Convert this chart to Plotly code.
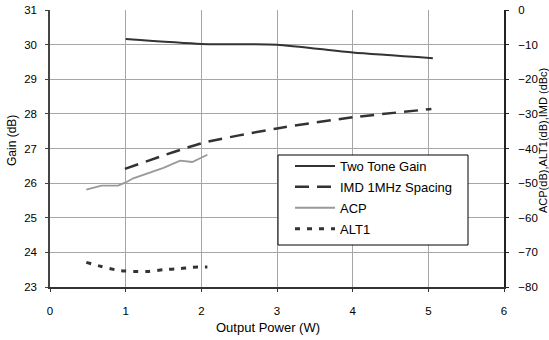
import plotly.graph_objects as go

# Data
gain_x = [1.0, 2.0, 3.0, 4.0, 5.06]
gain_y = [30.16, 30.02, 30.0, 29.77, 29.61]

imd_x = [0.99, 2.0, 3.0, 4.0, 5.04]
imd_y = [-45.9, -38.5, -34.2, -31.0, -28.6]

acp_x = [0.48, 0.68, 0.9, 1.0, 1.1, 1.3, 1.5, 1.72, 1.88, 2.08]
acp_y = [-51.9, -50.7, -50.7, -49.8, -48.6, -47.2, -45.6, -43.5, -43.9, -41.8]

alt1_x = [0.48, 0.68, 0.9, 1.0, 1.1, 1.3, 1.5, 1.72, 1.88, 2.08]
alt1_y = [-72.9, -74.1, -75.2, -75.4, -75.5, -75.5, -75.0, -74.7, -74.3, -74.2]

FONT = "Liberation Sans, Arial, sans-serif"
FS = 11.5
TS = 13
W, H = 549, 340
L, R, T, B = 50, 45, 10, 53
PW, PH = W - L - R, H - T - B


def px_x(p):
    return (p - L) / PW


def px_y(p):
    return (H - B - p) / PH


fig = go.Figure()
fig.add_trace(go.Scatter(x=gain_x, y=gain_y, name="Two Tone Gain", mode="lines", legendgroup="a",
                         line=dict(color="#333333", width=2, shape="spline", smoothing=0.6),
                         yaxis="y"))
fig.add_trace(go.Scatter(x=imd_x, y=imd_y, name="IMD 1MHz Spacing", mode="lines", legendgroup="b",
                         line=dict(color="#333333", width=2.5, dash="14px,8px", shape="spline", smoothing=0.6),
                         yaxis="y2"))
fig.add_trace(go.Scatter(x=acp_x, y=acp_y, name="ACP", mode="lines", legendgroup="c",
                         line=dict(color="#999999", width=1.8),
                         yaxis="y2"))
fig.add_trace(go.Scatter(x=alt1_x, y=alt1_y, name="ALT1", mode="lines", legendgroup="d",
                         line=dict(color="#333333", width=3, dash="5px,7px", shape="spline", smoothing=0.6),
                         yaxis="y2"))

axis_common = dict(zeroline=False, automargin=False, ticks="outside", ticklen=3,
                   tickfont=dict(size=FS))

fig.update_layout(
    width=W, height=H,
    margin=dict(l=L, r=R, t=T, b=B),
    paper_bgcolor="white", plot_bgcolor="white",
    font=dict(family=FONT, size=FS, color="black"),
    showlegend=True,
    legend=dict(x=px_x(290), y=px_y(151), xanchor="left", yanchor="top",
                bgcolor="rgba(0,0,0,0)", borderwidth=0,
                font=dict(size=TS), tracegroupgap=1, itemwidth=40),
    xaxis=dict(range=[0, 6], dtick=1, tick0=0, showgrid=True, gridcolor="#a6a6a6", gridwidth=1,
               showline=True, linecolor="#333333", linewidth=2, tickcolor="#333333",
               ticklabelstandoff=9, **axis_common),
    yaxis=dict(range=[23, 31], dtick=1, tick0=23, showgrid=True, gridcolor="#a6a6a6", gridwidth=1,
               showline=True, linecolor="#444444", linewidth=1.5, tickcolor="#444444",
               ticklabelstandoff=6, **axis_common),
    yaxis2=dict(range=[-80, 0], dtick=10, tick0=-80, overlaying="y", side="right",
                showgrid=False, showline=True, linecolor="#222222", linewidth=2,
                tickcolor="#222222", ticklabelstandoff=7, **axis_common),
    shapes=[
        dict(type="rect", xref="paper", yref="paper",
             x0=px_x(278), x1=px_x(468), y0=px_y(245), y1=px_y(155),
             fillcolor="white", line=dict(color="black", width=1), layer="above"),
    ],
    annotations=[
        dict(text="Gain (dB)", xref="paper", yref="paper", x=px_x(12), y=px_y(141),
             textangle=-90, showarrow=False, xanchor="center", yanchor="middle",
             font=dict(size=12)),
        dict(text="ACP(dB),ALT1(dB),IMD (dBc)", xref="paper", yref="paper", x=px_x(543), y=px_y(141),
             textangle=-90, showarrow=False, xanchor="center", yanchor="middle",
             font=dict(size=11)),
        dict(text="Output Power (W)", xref="paper", yref="paper", x=px_x(268), y=px_y(328),
             showarrow=False, xanchor="center", yanchor="middle", font=dict(size=TS)),
    ],
)

fig.write_html("out.html", config={"displayModeBar": False},
               post_script="document.body.style.margin='0px';")
